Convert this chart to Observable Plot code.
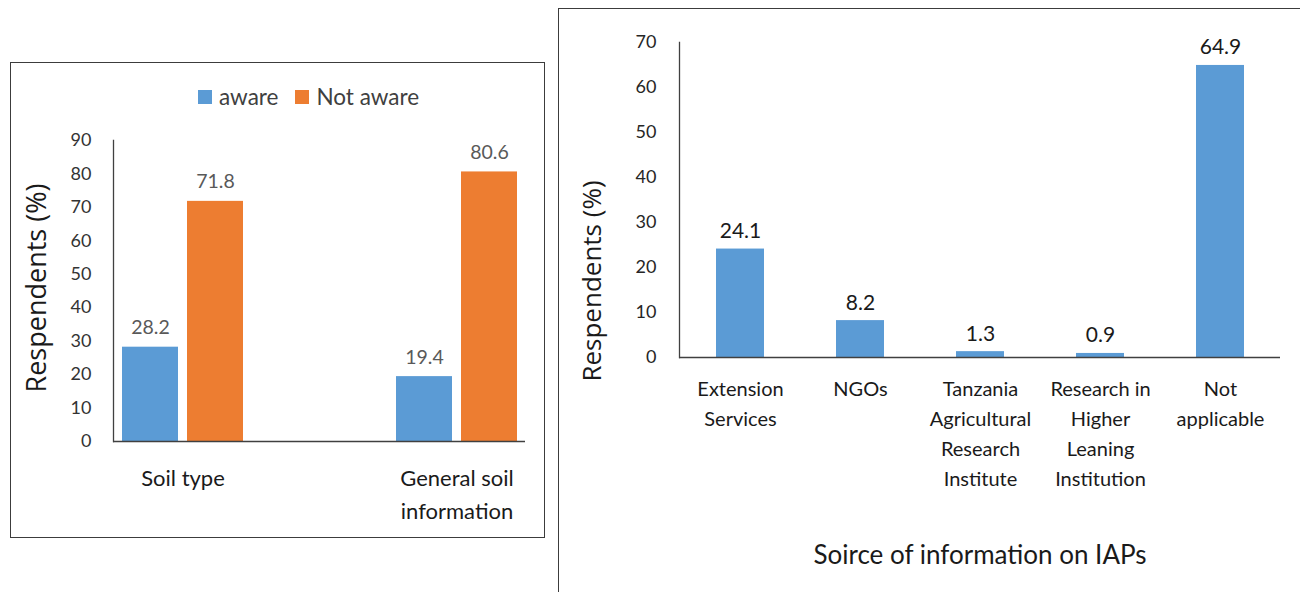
<!DOCTYPE html>
<html>
<head>
<meta charset="utf-8">
<script src="https://cdn.jsdelivr.net/npm/d3@7"></script>
<script src="https://cdn.jsdelivr.net/npm/@observablehq/plot@0.6"></script>
<style>
  html, body { margin: 0; padding: 0; background: #fff; }
  #page { position: relative; width: 1300px; height: 592px; overflow: hidden; font-family: Lato, sans-serif; }
  .box { position: absolute; box-sizing: border-box; border: 1.5px solid #3c3c3c; }
  .chart { position: absolute; }
  #legend { position: absolute; left: 198px; top: 83px; display: flex; align-items: center; font-family: Lato, sans-serif; font-size: 22.5px; color: #404040; white-space: nowrap; }
  #legend .sw { width: 14px; height: 14px; display: inline-block; margin-right: 7px; }
  #legend .item { display: flex; align-items: center; margin-right: 17px; }
</style>
</head>
<body>
<div id="page">
  <div class="box" style="left:10px; top:62px; width:535px; height:476px;"></div>
  <div class="box" style="left:558px; top:8px; width:760px; height:620px;"></div>
  <div id="left" class="chart" style="left:10px; top:62px;"></div>
  <div id="legend"></div>
  <div id="right" class="chart" style="left:560px; top:9px;"></div>
</div>
<script>
// ---- Left chart data ----
const leftCategories = ["Soil type", "General soil\ninformation"];
const leftSeries = ["aware", "Not aware"];
const awareValues = [28.2, 19.4];
const notAwareValues = [71.8, 80.6];
const leftColors = ["#5B9BD5", "#ED7D31"];
const leftTicks = [0, 10, 20, 30, 40, 50, 60, 70, 80, 90];
const leftYTitle = "Respendents (%)";

// ---- Right chart data ----
const rightCategories = ["Extension\nServices", "NGOs", "Tanzania\nAgricultural\nResearch\nInstitute", "Research in\nHigher\nLeaning\nInstitution", "Not\napplicable"];
const rightValues = [24.1, 8.2, 1.3, 0.9, 64.9];
const rightTicks = [0, 10, 20, 30, 40, 50, 60, 70];
const rightColor = "#5B9BD5";
const rightYTitle = "Respendents (%)";
const rightXTitle = "Soirce of information on IAPs";

// ---- Left chart ----
const awareRows = leftCategories.map((c, i) => ({category: c, series: leftSeries[0], value: awareValues[i]}));
const notAwareRows = leftCategories.map((c, i) => ({category: c, series: leftSeries[1], value: notAwareValues[i]}));

const leftPlot = Plot.plot({
  width: 534,
  height: 475,
  marginLeft: 103,
  marginRight: 19,
  marginTop: 78,
  marginBottom: 96,
  style: {fontFamily: "Lato, sans-serif", color: "#333", background: "transparent"},
  x: {domain: leftCategories, paddingInner: 0.56, paddingOuter: 0.03},
  y: {domain: [0, 90]},
  marks: [
    Plot.barY(awareRows, {x: "category", y: "value", fill: leftColors[0], insetRight: 65, insetLeft: 0}),
    Plot.barY(notAwareRows, {x: "category", y: "value", fill: leftColors[1], insetLeft: 65, insetRight: 0}),
    Plot.text(awareRows, {x: "category", y: "value", text: d => d.value.toFixed(1), dx: -32.5, dy: -13, lineAnchor: "bottom", fontSize: 19.5, fill: "#595959"}),
    Plot.text(notAwareRows, {x: "category", y: "value", text: d => d.value.toFixed(1), dx: 32.5, dy: -13, lineAnchor: "bottom", fontSize: 19.5, fill: "#595959"}),
    Plot.axisY({ticks: leftTicks, tickSize: 0, tickPadding: 22, fontSize: 18, label: null, fill: "#333"}),
    Plot.axisX({tickSize: 0, tickPadding: 21, fontSize: 22, lineHeight: 1.5, label: null, fill: "#1a1a1a"}),
    Plot.frame({anchor: "left", stroke: "#404040", strokeWidth: 1.3}),
    Plot.ruleY([0], {stroke: "#404040", strokeWidth: 1.3}),
    Plot.text([leftYTitle], {frameAnchor: "left", rotate: -90, textAnchor: "middle", lineAnchor: "middle", dx: -76, dy: -3, fontSize: 27, fontFamily: "'Open Sans', sans-serif", fill: "#1a1a1a"})
  ]
});
document.getElementById("left").appendChild(leftPlot);

// legend
const legend = document.getElementById("legend");
leftSeries.forEach((s, i) => {
  const item = document.createElement("span");
  item.className = "item";
  const sw = document.createElement("span");
  sw.className = "sw";
  sw.style.background = leftColors[i];
  item.appendChild(sw);
  item.appendChild(document.createTextNode(s));
  legend.appendChild(item);
});

// ---- Right chart ----
const rightRows = rightCategories.map((c, i) => ({category: c, value: rightValues[i]}));

const rightPlot = Plot.plot({
  width: 740,
  height: 583,
  marginLeft: 119,
  marginRight: 20,
  marginTop: 33,
  marginBottom: 235,
  style: {fontFamily: "Lato, sans-serif", color: "#222", background: "transparent"},
  x: {domain: rightCategories, paddingInner: 0.6, paddingOuter: 0.3},
  y: {domain: [0, 70]},
  marks: [
    Plot.barY(rightRows, {x: "category", y: "value", fill: rightColor}),
    Plot.text(rightRows, {x: "category", y: "value", text: d => d.value.toFixed(1), dy: -11, lineAnchor: "bottom", fontSize: 21, fill: "#1a1a1a"}),
    Plot.axisY({ticks: rightTicks, tickSize: 0, tickPadding: 23, fontSize: 18, label: null, fill: "#262626"}),
    Plot.axisX({tickSize: 0, tickPadding: 17, fontSize: 20, lineHeight: 1.5, label: null, fill: "#1a1a1a"}),
    Plot.frame({anchor: "left", stroke: "#404040", strokeWidth: 1.3}),
    Plot.ruleY([0], {stroke: "#404040", strokeWidth: 1.3}),
    Plot.text([rightYTitle], {frameAnchor: "left", rotate: -90, textAnchor: "middle", lineAnchor: "middle", dx: -87, dy: 81, fontSize: 26, fontFamily: "'Open Sans', sans-serif", fill: "#1a1a1a"}),
    Plot.text([rightXTitle], {frameAnchor: "bottom", textAnchor: "middle", lineAnchor: "middle", dy: 198, fontSize: 26, fill: "#1a1a1a"})
  ]
});
document.getElementById("right").appendChild(rightPlot);
</script>
</body>
</html>
